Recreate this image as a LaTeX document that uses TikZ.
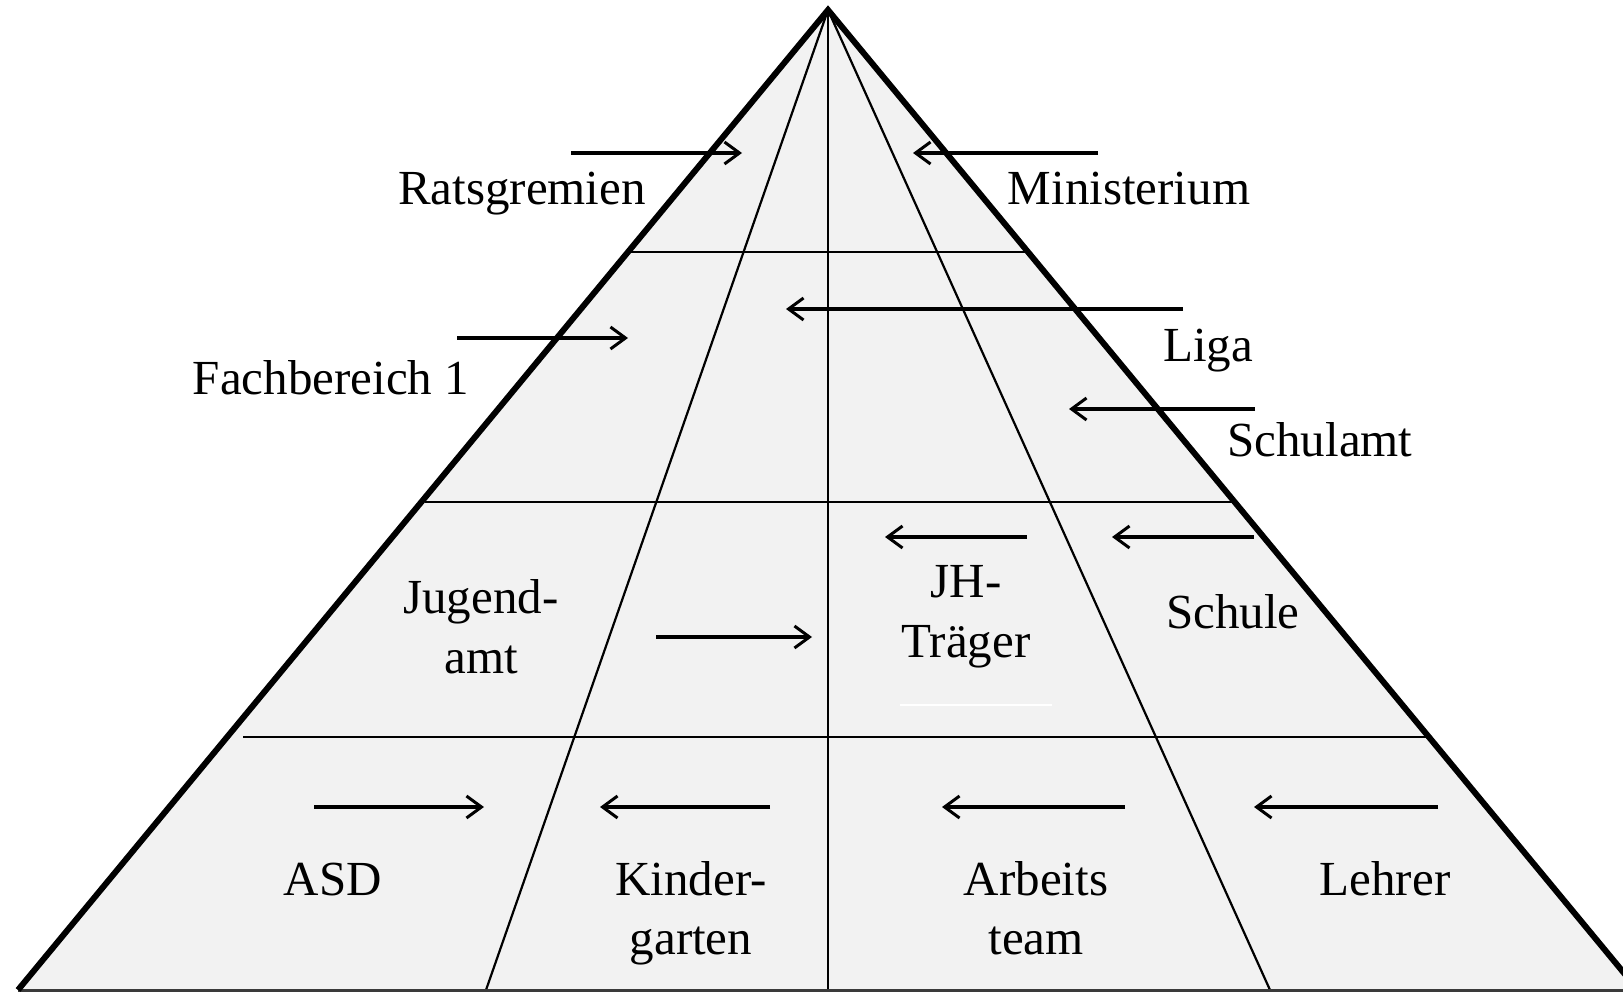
\documentclass[tikz,border=0pt]{standalone}
\usepackage{fontspec}
\setmainfont{Liberation Serif}
\usetikzlibrary{arrows.meta}
\definecolor{pyrfill}{HTML}{F2F2F2}
\definecolor{baseclr}{HTML}{3A3A3A}
\begin{document}
\begin{tikzpicture}[x=1pt,y=-1pt,
  lbl/.style={inner sep=0pt,anchor=base,font=\fontsize{49pt}{60pt}\selectfont},
  edge/.style={line width=6pt,line join=miter,line cap=butt},
  inner/.style={line width=2.2pt},
  hline/.style={line width=2.6pt},
  arr/.style={line width=3.2pt,-{Straight Barb[length=15pt,width=22pt,line width=3pt]}}]
\useasboundingbox (0,0) rectangle (1623,992);
\clip (0,0) rectangle (1623,992);
% corners
\coordinate (apex) at (828,10);
\coordinate (bl) at (18,990);
\coordinate (br) at (1638,990);
\coordinate (il) at (486,990);
\coordinate (ic) at (828,990);
\coordinate (ir) at (1270,990);
% fill
\fill[pyrfill] (apex) -- (bl) -- (br) -- cycle;
% horizontal dividers
\coordinate (h1l) at (628,252);  \coordinate (h1r) at (1028,252);
\coordinate (h2l) at (425,502);  \coordinate (h2r) at (1235,502);
\coordinate (h3l) at (243,737);  \coordinate (h3r) at (1427,737);
\draw[hline] (h1l) -- (h1r);
\draw[hline] (h2l) -- (h2r);
\draw[hline] (h3l) -- (h3r);
% inner lines from apex
\draw[inner] (apex) -- (il);
\draw[inner] (apex) -- (ic);
\draw[inner] (apex) -- (ir);
% faint white streak
\coordinate (w1) at (900,705); \coordinate (w2) at (1052,705);
\draw[white,line width=1.5pt] (w1) -- (w2);
% bottom line
\draw[baseclr,line width=3pt] (bl) -- (br);
% outer edges
\draw[edge] (bl) -- (apex) -- (br);
% arrows
\coordinate (a1s) at (571,153);  \coordinate (a1e) at (742,153);
\coordinate (a2s) at (1098,153); \coordinate (a2e) at (913,153);
\coordinate (a3s) at (1183,309); \coordinate (a3e) at (786,309);
\coordinate (a4s) at (457,338);  \coordinate (a4e) at (628,338);
\coordinate (a5s) at (1255,409); \coordinate (a5e) at (1069,409);
\coordinate (a6s) at (1027,537); \coordinate (a6e) at (885,537);
\coordinate (a7s) at (1254,537); \coordinate (a7e) at (1112,537);
\coordinate (a8s) at (656,637);  \coordinate (a8e) at (812,637);
\coordinate (a9s) at (314,807);  \coordinate (a9e) at (484,807);
\coordinate (a10s) at (770,807); \coordinate (a10e) at (600,807);
\coordinate (a11s) at (1125,807);\coordinate (a11e) at (942,807);
\coordinate (a12s) at (1438,807);\coordinate (a12e) at (1254,807);
\foreach \i in {1,...,12} {\draw[arr] (a\i s) -- (a\i e);}
% labels
\node[lbl] (rats) at (522,205) {Ratsgremien};
\node[lbl] (mini) at (1129,205) {Ministerium};
\node[lbl] (liga) at (1208,362) {Liga};
\node[lbl] (schulamt) at (1320,456) {Schulamt};
\node[lbl] (fach) at (331,394) {Fachbereich 1};
\node[lbl] (jug1) at (481,613) {Jugend-};
\node[lbl] (jug2) at (481,673) {amt};
\node[lbl] (jh1) at (966,597) {JH-};
\node[lbl] (jh2) at (966,657) {Träger};
\node[lbl] (schule) at (1233,628) {Schule};
\node[lbl] (asd) at (333,895) {ASD};
\node[lbl] (kg1) at (691,895) {Kinder-};
\node[lbl] (kg2) at (691,954) {garten};
\node[lbl] (at1) at (1036,895) {Arbeits};
\node[lbl] (at2) at (1036,954) {team};
\node[lbl] (lehrer) at (1385,895) {Lehrer};
\end{tikzpicture}
\end{document}
